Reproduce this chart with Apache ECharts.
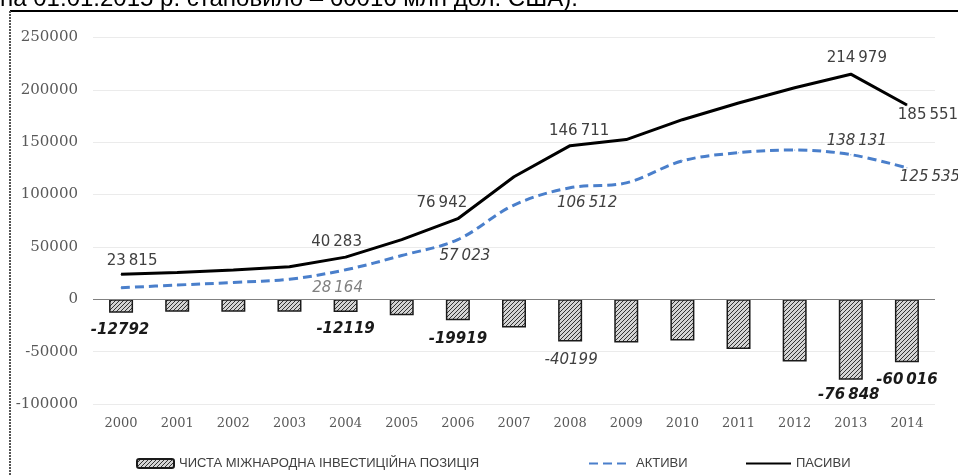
<!DOCTYPE html>
<html>
<head>
<meta charset="utf-8">
<script src="https://cdn.jsdelivr.net/npm/echarts@6/dist/echarts.min.js"></script>
<style>
html,body{margin:0;padding:0;background:#fff;}
#chart{width:958px;height:475px;}
</style>
</head>
<body>
<div id="chart"></div>
<script>
const years = ['2000','2001','2002','2003','2004','2005','2006','2007','2008','2009','2010','2011','2012','2013','2014'];
const netPosition = [-12792, -11900, -11900, -11800, -12119, -15200, -19919, -27000, -40199, -41300, -39300, -47500, -59400, -76848, -60016];
const assets = [11023, 13600, 16100, 19200, 28164, 41800, 57023, 90000, 106512, 111200, 132200, 140000, 142600, 138131, 125535];
const liabilities = [23815, 25500, 28000, 31000, 40283, 57000, 76942, 117000, 146711, 152500, 171500, 187500, 202000, 214979, 185551];
const yTicks = {min: -100000, max: 250000, interval: 50000};
const seriesNames = ['ЧИСТА МІЖНАРОДНА ІНВЕСТИЦІЙНА ПОЗИЦІЯ', 'АКТИВИ', 'ПАСИВИ'];
const headerText = 'на 01.01.2015 р. становило – 60016 млн дол. США).';

// label placement (offsets of label centre from the point)
const liabLabelPos = {0:[11,-13], 4:[-9,-15], 6:[-16,-16], 8:[9,-15], 13:[6,-16], 14:[21,10]};
const assetLabelPos = {4:[-8,18], 6:[7,17], 8:[17,15], 13:[6,-14], 14:[23,9]};
const netLabelPos = {0:[-1,5], 4:[0,5], 6:[0,6], 8:[1,6], 13:[-2,3], 14:[0,5]};
const netGrouped = {13:true, 14:true};
const netLight = {8:true};

function group(v){
  const s = String(Math.abs(v)).replace(/\B(?=(\d{3})+(?!\d))/g, '\u2009');
  return (v < 0 ? '-' : '') + s;
}

// hatch pattern
const pat = document.createElement('canvas');
pat.width = 4; pat.height = 4;
const pc = pat.getContext('2d');
pc.fillStyle = '#d4d4d4';
pc.fillRect(0,0,4,4);
pc.strokeStyle = '#333';
pc.lineWidth = 1;
pc.beginPath();
pc.moveTo(0,4); pc.lineTo(4,0);
pc.moveTo(-1,1); pc.lineTo(1,-1);
pc.moveTo(3,5); pc.lineTo(5,3);
pc.stroke();

const labelFont = 'DejaVu Sans';

const liabData = liabilities.map((v,i)=>{
  const o = {value: v};
  if (liabLabelPos[i]) {
    o.label = {show:true, position:'inside', offset: liabLabelPos[i], formatter: p=>group(p.value),
      color:'#404040', fontFamily: labelFont, fontSize: 15};
  }
  return o;
});
const assetData = assets.map((v,i)=>{
  const o = {value: v};
  if (assetLabelPos[i]) {
    o.label = {show:true, position:'inside', offset: assetLabelPos[i], formatter: p=>group(p.value),
      color: i===4 ? '#808080' : '#404040', fontStyle:'italic', fontFamily: labelFont, fontSize: 15};
  }
  return o;
});
const netData = netPosition.map((v,i)=>{
  const o = {value: v};
  if (netLabelPos[i]) {
    o.label = {show:true, position:'bottom', distance:5, offset: netLabelPos[i],
      formatter: p => netGrouped[p.dataIndex] ? group(p.value) : String(p.value),
      color: netLight[i] ? '#404040' : '#1a1a1a', fontStyle:'italic', fontWeight: netLight[i] ? 'normal' : 'bold',
      fontFamily: labelFont, fontSize: 15};
  }
  return o;
});

const chart = echarts.init(document.getElementById('chart'), null, {renderer:'canvas'});
const legendText = {color:'#404040', fontFamily:'"Liberation Sans Narrow", "Liberation Sans", sans-serif', fontSize:13};
chart.setOption({
  animation:false,
  backgroundColor:'#fff',
  grid:{left:93, right:23, top:37.5, bottom:71, containLabel:false},
  xAxis:{type:'category', data: years,
    axisLine:{show:false}, axisTick:{show:false},
    axisLabel:{color:'#595959', fontFamily:'DejaVu Serif', fontSize:13, margin:13},
    splitLine:{show:false}},
  yAxis:{type:'value', min:yTicks.min, max:yTicks.max, interval:yTicks.interval,
    axisLine:{show:false}, axisTick:{show:false},
    axisLabel:{color:'#595959', fontFamily:'DejaVu Serif', fontSize:15, margin:15, formatter: v => String(v)},
    splitLine:{lineStyle:{color:'#ebebeb', width:1}}},
  legend:[
    {data:[seriesNames[0]], left:136, top:457, itemWidth:37, itemHeight:9, padding:0, textStyle:legendText},
    {data:[seriesNames[1]], left:588, top:457, itemWidth:42, itemHeight:9, padding:0, textStyle:legendText, itemStyle:{opacity:0}},
    {data:[seriesNames[2]], left:745, top:457, itemWidth:45, itemHeight:9, padding:0, textStyle:legendText, itemStyle:{opacity:0}}
  ],
  graphic:[
    {type:'text', left:0, top:-13, style:{text: headerText, font:'24px "Liberation Sans"', fill:'#000'}},
    {type:'line', shape:{x1:10, y1:11, x2:958, y2:11}, style:{stroke:'#000', lineWidth:2}},
    {type:'line', shape:{x1:10, y1:11, x2:10, y2:475}, style:{stroke:'#555', lineWidth:2, lineDash:[2,1]}}
  ],
  series:[
    {name: seriesNames[0], type:'bar', data: netData, barWidth:24,
      itemStyle:{color:{image: pat, repeat:'repeat'}, borderColor:'#1a1a1a', borderWidth:1.5},
      markLine:{silent:true, symbol:'none', label:{show:false}, lineStyle:{color:'#808080', width:1, type:'solid'}, data:[{yAxis:0}]},
      z:2},
    {name: seriesNames[1], type:'line', data: assetData, symbol:'circle', symbolSize:1, showSymbol:true, smooth:0.35,
      lineStyle:{color:'#4a7fcb', width:3, type:[9,5]}, itemStyle:{color:'#4a7fcb'}, z:3},
    {name: seriesNames[2], type:'line', data: liabData, symbol:'circle', symbolSize:1, showSymbol:true,
      lineStyle:{color:'#000', width:3}, itemStyle:{color:'#000'}, z:4}
  ]
});
</script>
</body>
</html>
